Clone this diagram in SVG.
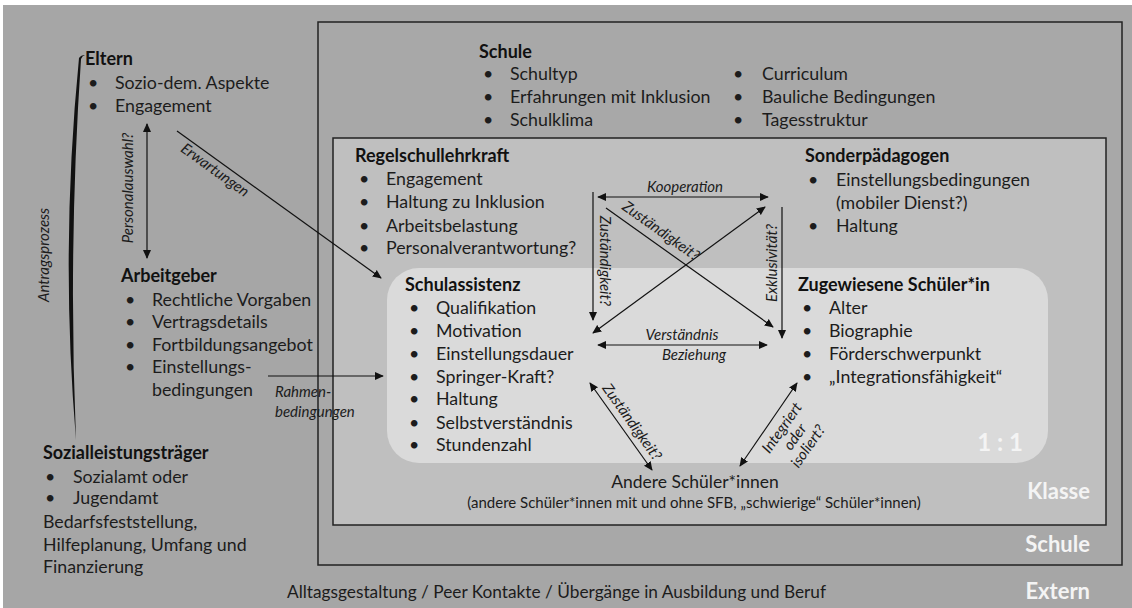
<svg xmlns="http://www.w3.org/2000/svg" width="1132" height="608" viewBox="0 0 1132 608">
<defs>
<marker id="ah" viewBox="0 0 10 10" refX="9" refY="5" markerWidth="9" markerHeight="9" markerUnits="userSpaceOnUse" orient="auto-start-reverse"><path d="M0,0.5 L10,5 L0,9.5 Z" fill="#111"/></marker>
</defs>
<style>
text{font-family:Lato,"Open Sans","Liberation Sans",sans-serif;fill:#1c1c1c}
.t{font-size:17.8px}
.h{font-size:18px;font-weight:bold;fill:#111}
.i{font-size:15px;font-style:italic}
.w{font-size:22px;font-weight:bold;fill:#f4f4f4}
.c{stroke:#111;stroke-width:1.2;fill:none}
.one{marker-end:url(#ah)}
.two{marker-start:url(#ah);marker-end:url(#ah)}
</style>
<rect x="0" y="0" width="1132" height="608" fill="#ffffff"/>
<rect x="3" y="5" width="1129" height="603" fill="#a6a6a6"/>
<g id="schule-box"><rect x="318" y="22" width="804" height="543" fill="#a8a8a8" stroke="#222" stroke-width="1.5"/></g>
<g id="klasse-box"><rect x="333" y="138" width="773" height="387" fill="#bfbfbf" stroke="#222" stroke-width="1.5"/></g>
<g id="einszueins-box"><rect x="387" y="268" width="661" height="195" rx="32" fill="#dadada"/></g>

<g id="antragsprozess">
<path d="M79,58 Q60,250 76,440 Q68,250 81,59 Q82,56 85,55 Q81,55 79,58 Z" fill="#111"/>
<text class="i" transform="translate(44,255) rotate(-90)" y="5" text-anchor="middle">Antragsprozess</text>
</g>

<g id="eltern">
<text class="h" x="85" y="65">Eltern</text>
<text class="t" x="88" y="89">•</text><text class="t" x="115" y="89">Sozio-dem. Aspekte</text>
<text class="t" x="88" y="112">•</text><text class="t" x="115" y="112">Engagement</text>
</g>

<g id="arbeitgeber">
<text class="h" x="121" y="282">Arbeitgeber</text>
<text class="t" x="125" y="306">•</text><text class="t" x="152" y="306">Rechtliche Vorgaben</text>
<text class="t" x="125" y="328">•</text><text class="t" x="152" y="328">Vertragsdetails</text>
<text class="t" x="125" y="351">•</text><text class="t" x="152" y="351">Fortbildungsangebot</text>
<text class="t" x="125" y="373">•</text><text class="t" x="152" y="373">Einstellungs-</text>
<text class="t" x="152" y="396">bedingungen</text>
</g>

<g id="sozialleistungstraeger">
<text class="h" x="43" y="459">Sozialleistungsträger</text>
<text class="t" x="45" y="483">•</text><text class="t" x="73" y="483">Sozialamt oder</text>
<text class="t" x="45" y="504">•</text><text class="t" x="73" y="504">Jugendamt</text>
<text class="t" x="43" y="528">Bedarfsfeststellung,</text>
<text class="t" x="43" y="551">Hilfeplanung, Umfang und</text>
<text class="t" x="43" y="573">Finanzierung</text>
</g>

<g id="schule">
<text class="h" x="479" y="58">Schule</text>
<text class="t" x="483" y="80">•</text><text class="t" x="510" y="80">Schultyp</text>
<text class="t" x="483" y="103">•</text><text class="t" x="510" y="103">Erfahrungen mit Inklusion</text>
<text class="t" x="483" y="126">•</text><text class="t" x="510" y="126">Schulklima</text>
<text class="t" x="733" y="80">•</text><text class="t" x="762" y="80">Curriculum</text>
<text class="t" x="733" y="103">•</text><text class="t" x="762" y="103">Bauliche Bedingungen</text>
<text class="t" x="733" y="126">•</text><text class="t" x="762" y="126">Tagesstruktur</text>
</g>

<g id="regelschullehrkraft">
<text class="h" x="355" y="162">Regelschullehrkraft</text>
<text class="t" x="359" y="185">•</text><text class="t" x="386" y="185">Engagement</text>
<text class="t" x="359" y="208">•</text><text class="t" x="386" y="208">Haltung zu Inklusion</text>
<text class="t" x="359" y="232">•</text><text class="t" x="386" y="232">Arbeitsbelastung</text>
<text class="t" x="359" y="254">•</text><text class="t" x="386" y="254">Personalverantwortung?</text>
</g>

<g id="sonderpaedagogen">
<text class="h" x="805" y="162">Sonderpädagogen</text>
<text class="t" x="808" y="186">•</text><text class="t" x="836" y="186">Einstellungsbedingungen</text>
<text class="t" x="836" y="209">(mobiler Dienst?)</text>
<text class="t" x="808" y="232">•</text><text class="t" x="836" y="232">Haltung</text>
</g>

<g id="schulassistenz">
<text class="h" x="405" y="291">Schulassistenz</text>
<text class="t" x="409" y="314">•</text><text class="t" x="436" y="314">Qualifikation</text>
<text class="t" x="409" y="337">•</text><text class="t" x="436" y="337">Motivation</text>
<text class="t" x="409" y="360">•</text><text class="t" x="436" y="360">Einstellungsdauer</text>
<text class="t" x="409" y="383">•</text><text class="t" x="436" y="383">Springer-Kraft?</text>
<text class="t" x="409" y="405">•</text><text class="t" x="436" y="405">Haltung</text>
<text class="t" x="409" y="429">•</text><text class="t" x="436" y="429">Selbstverständnis</text>
<text class="t" x="409" y="451">•</text><text class="t" x="436" y="451">Stundenzahl</text>
</g>

<g id="zugewiesene">
<text class="h" x="798" y="291">Zugewiesene Schüler*in</text>
<text class="t" x="802" y="314">•</text><text class="t" x="829" y="314">Alter</text>
<text class="t" x="802" y="337">•</text><text class="t" x="829" y="337">Biographie</text>
<text class="t" x="802" y="360">•</text><text class="t" x="829" y="360">Förderschwerpunkt</text>
<text class="t" x="802" y="383">•</text><text class="t" x="829" y="383">„Integrationsfähigkeit“</text>
<text x="1000" y="451" text-anchor="middle" style="font-size:24px;font-weight:bold;fill:#f4f4f4">1 : 1</text>
</g>

<g id="andere">
<text x="695" y="488" text-anchor="middle" style="font-size:17.5px">Andere Schüler*innen</text>
<text x="694" y="508" text-anchor="middle" style="font-size:15px">(andere Schüler*innen mit und ohne SFB, „schwierige“ Schüler*innen)</text>
</g>

<g id="ebenen">
<text class="w" x="1090" y="499" text-anchor="end">Klasse</text>
<text class="w" x="1090" y="552" text-anchor="end">Schule</text>
<text class="w" x="1090" y="599" text-anchor="end">Extern</text>
<text x="287" y="598" style="font-size:17.5px" textLength="539" lengthAdjust="spacingAndGlyphs">Alltagsgestaltung / Peer Kontakte / Übergänge in Ausbildung und Beruf</text>
</g>

<g id="connectors">
<line class="c two" x1="147" y1="124" x2="147" y2="258"/>
<line class="c one" x1="177" y1="131" x2="381" y2="278"/>
<line class="c one" x1="268" y1="376" x2="383" y2="376"/>
<line class="c two" x1="598" y1="197" x2="768" y2="197"/>
<line class="c one" x1="593" y1="192" x2="593" y2="320"/>
<line class="c one" x1="606" y1="208" x2="773" y2="327"/>
<line class="c two" x1="593" y1="333" x2="765" y2="207"/>
<line class="c one" x1="782" y1="207" x2="782" y2="338"/>
<line class="c two" x1="598" y1="345" x2="767" y2="345"/>
<line class="c two" x1="590" y1="383" x2="652" y2="470"/>
<line class="c two" x1="797" y1="383" x2="740" y2="466"/>
<text class="i" transform="translate(128,188) rotate(-90)" y="5" text-anchor="middle">Personalauswahl?</text>
<text class="i" transform="translate(215,170) rotate(35.8)" y="5" text-anchor="middle">Erwartungen</text>
<text class="i" x="275" y="397">Rahmen-</text>
<text class="i" x="275" y="417">bedingungen</text>
<text class="i" x="685" y="192" text-anchor="middle">Kooperation</text>
<text class="i" transform="translate(605,261) rotate(90)" y="5" text-anchor="middle">Zuständigkeit?</text>
<text class="i" transform="translate(661,231) rotate(35.5)" y="5" text-anchor="middle">Zuständigkeit?</text>
<text class="i" transform="translate(772,263) rotate(-90)" y="5" text-anchor="middle">Exklusivität?</text>
<text class="i" x="682" y="340" text-anchor="middle">Verständnis</text>
<text class="i" x="694" y="360" text-anchor="middle">Beziehung</text>
<text class="i" transform="translate(632,422) rotate(54.5)" y="5" text-anchor="middle">Zuständigkeit?</text>
<g transform="translate(795,437) rotate(-55)">
<text class="i" y="-11" text-anchor="middle">Integriert</text>
<text class="i" y="5" text-anchor="middle">oder</text>
<text class="i" y="21" text-anchor="middle">isoliert?</text>
</g>
</g>
</svg>
